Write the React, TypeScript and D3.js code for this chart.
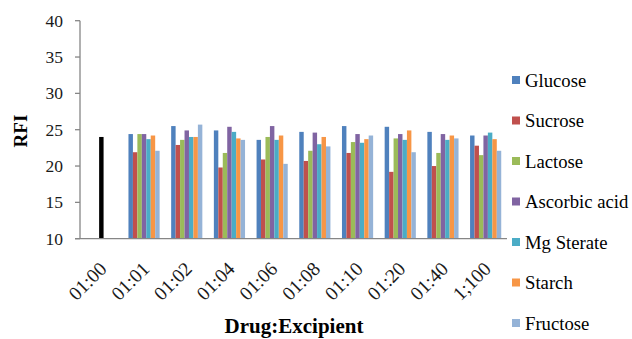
import React from "react";
import * as d3 from "d3";

const categories = ["01:00", "01:01", "01:02", "01:04", "01:06", "01:08", "01:10", "01:20", "01:40", "1;100"];
const seriesNames = ["Glucose", "Sucrose", "Lactose", "Ascorbic acid", "Mg Sterate", "Starch", "Fructose"];
const seriesColors = ["#4F81BD", "#C0504D", "#9BBB59", "#8064A2", "#4BACC6", "#F79646", "#95B3D7"];

const glucose = [null, 24.4, 25.5, 24.9, 23.6, 24.7, 25.5, 25.4, 24.7, 24.2];
const sucrose = [null, 21.9, 22.9, 19.8, 20.9, 20.7, 21.8, 19.2, 20.0, 22.8];
const lactose = [null, 24.4, 23.6, 21.8, 24.0, 22.1, 23.3, 23.8, 21.8, 21.5];
const ascorbicAcid = [24.0, 24.4, 24.9, 25.4, 25.5, 24.6, 24.4, 24.4, 24.4, 24.2];
const mgSterate = [null, 23.7, 24.0, 24.7, 23.6, 23.0, 23.2, 23.6, 23.6, 24.6];
const starch = [null, 24.2, 24.0, 23.8, 24.2, 24.0, 23.7, 24.9, 24.2, 23.7];
const fructose = [null, 22.1, 25.7, 23.6, 20.3, 22.7, 24.2, 21.9, 23.8, 22.1];

const seriesValues = [glucose, sucrose, lactose, ascorbicAcid, mgSterate, starch, fructose];
// The single "drug only" bar (01:00) is drawn in black
const drugOnlyCategory = "01:00";

const yTicks = [10, 15, 20, 25, 30, 35, 40];

export default function App() {
  const width = 632;
  const height = 339;
  const left = 80;
  const right = 507;
  const top = 20.7;
  const bottom = 238.7;

  const x0 = d3.scaleBand<string>().domain(categories).range([left, right]).padding(0);
  const bw = x0.bandwidth();
  const groupW = bw * 0.73;
  const x1 = d3.scaleBand<string>().domain(seriesNames).range([0, groupW]).padding(0);
  const y = d3.scaleLinear().domain([10, 40]).range([bottom, top]);

  const axisColor = "#868686";
  const textStyle = { fontFamily: '"Liberation Serif", "Times New Roman", serif' };

  const bars: JSX.Element[] = [];
  categories.forEach((cat, ci) => {
    seriesNames.forEach((s, si) => {
      const v = seriesValues[si][ci];
      if (v == null) return;
      const bx = (x0(cat) as number) + (bw - groupW) / 2 + (x1(s) as number);
      const color = cat === drugOnlyCategory ? "#000000" : seriesColors[si];
      bars.push(
        <rect key={`${ci}-${si}`} x={bx} y={y(v)} width={x1.bandwidth()} height={y(10) - y(v)} fill={color} />
      );
    });
  });

  const legendTop = 80;
  const legendStep = 40.5;

  return (
    <svg width={width} height={height} style={{ position: "absolute", left: 0, top: 0, background: "#fff" }}>
      <rect x={0} y={0} width={width} height={height} fill="#fff" />
      {bars}
      {/* y axis */}
      <line x1={left} x2={left} y1={top} y2={bottom} stroke={axisColor} strokeWidth={1.3} />
      {yTicks.map((t) => (
        <g key={t}>
          <line x1={left - 5} x2={left} y1={y(t)} y2={y(t)} stroke={axisColor} strokeWidth={1.3} />
          <text x={63} y={y(t)} dy="0.35em" textAnchor="end" style={textStyle} fontSize={17.5} fill="#1a1a1a">
            {t}
          </text>
        </g>
      ))}
      {/* x axis */}
      <line x1={left - 5} x2={right} y1={bottom} y2={bottom} stroke={axisColor} strokeWidth={1.3} />
      {categories.map((c) => {
        const cx = (x0(c) as number) + bw / 2;
        const tx = cx + 6.5;
        const ty = 270;
        return (
          <text
            key={c}
            x={tx}
            y={ty}
            textAnchor="end"
            style={textStyle}
            fontSize={19.5}
            fill="#1a1a1a"
            transform={`rotate(-45, ${tx}, ${ty})`}
          >
            {c}
          </text>
        );
      })}
      {/* axis titles */}
      <text x={294} y={333} textAnchor="middle" style={textStyle} fontWeight="bold" fontSize={21} fill="#000">
        Drug:Excipient
      </text>
      <text
        x={27}
        y={131}
        textAnchor="middle"
        style={textStyle}
        fontWeight="bold"
        fontSize={19}
        fill="#000"
        transform={`rotate(-90, 27, 131)`}
      >
        RFI
      </text>
      {/* legend */}
      {seriesNames.map((s, i) => {
        const cy = legendTop + i * legendStep;
        return (
          <g key={s}>
            <rect x={512} y={cy - 4} width={8} height={8} fill={seriesColors[i]} />
            <text x={525} y={cy} dy="0.35em" style={textStyle} fontSize={18.7} fill="#000">
              {s}
            </text>
          </g>
        );
      })}
    </svg>
  );
}
